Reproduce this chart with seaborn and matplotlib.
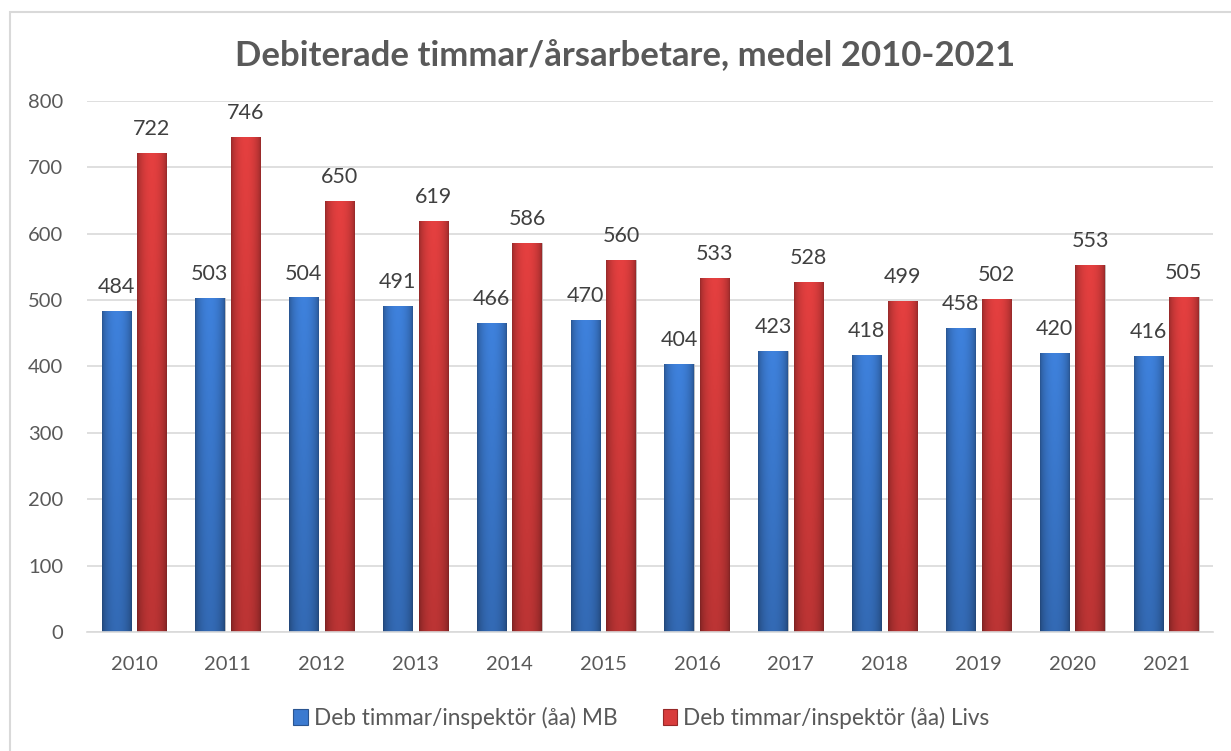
import matplotlib.pyplot as plt
import matplotlib.colors as mcolors
import matplotlib.patches as mpatches
import numpy as np
import pandas as pd
import seaborn as sns

years = ["2010", "2011", "2012", "2013", "2014", "2015",
         "2016", "2017", "2018", "2019", "2020", "2021"]
mb = [484, 503, 504, 491, 466, 470, 404, 423, 418, 458, 420, 416]
livs = [722, 746, 650, 619, 586, 560, 533, 528, 499, 502, 553, 505]
series = ["Deb timmar/inspektör (åa) MB", "Deb timmar/inspektör (åa) Livs"]
colors = ["#3b7ad0", "#d83c3c"]
edge_colors = ["#2a5591", "#962828"]

TEXT = "#595959"
GRID = "#d9d9d9"


def gradient_bar(ax, patch, base):
    """バーをグラデーションで塗る（Excel風）。"""
    x, y = patch.get_x(), patch.get_y()
    w, h = patch.get_width(), patch.get_height()
    rgb = np.array(mcolors.to_rgb(base))
    u = np.linspace(0, 1, 40)
    horiz = 0.70 + 0.36 * np.sin(np.pi * u) ** 0.6
    v = np.linspace(0, 1, 80)[:, None]
    vert = 1.0 - 0.18 * v
    img = np.clip(rgb[None, None, :] * horiz[None, :, None] * vert[..., None], 0, 1)
    im = ax.imshow(img, extent=[x, x + w, y, y + h], aspect="auto", origin="upper",
                   zorder=patch.get_zorder() + 0.1, interpolation="bilinear")
    im.set_clip_path(patch)


df = pd.DataFrame({
    "year": years * 2,
    "value": mb + livs,
    "series": [series[0]] * len(years) + [series[1]] * len(years),
})

sns.set_style("white")
plt.rcParams["font.family"] = ["Lato", "DejaVu Sans"]

fig = plt.figure(figsize=(12.31, 7.51), dpi=100)
ax = fig.add_axes([0.0707, 0.1585, 0.9147, 0.707])

sns.barplot(data=df, x="year", y="value", hue="series", palette=colors,
            width=0.76, gap=0.18, ax=ax, legend=False, zorder=2,
            edgecolor="none")

for container, base, ec in zip(ax.containers, colors, edge_colors):
    for patch in container:
        patch.set_edgecolor("#c0c0c0")
        patch.set_linewidth(0.6)
        gradient_bar(ax, patch, base)
    ax.bar_label(container, padding=10, fontsize=15.5, color="#404040")

ax.set_xlim(-0.5, len(years) - 0.5)
ax.set_ylim(0, 800)
ax.set_yticks(range(0, 801, 100))
ax.yaxis.grid(True, color=GRID, linewidth=1.2, zorder=0)
ax.set_axisbelow(True)
for s in ["top", "right", "left"]:
    ax.spines[s].set_visible(False)
ax.spines["bottom"].set_color(GRID)
ax.spines["bottom"].set_linewidth(1.2)
ax.tick_params(axis="y", length=0, pad=17, labelsize=14.5, labelcolor=TEXT)
ax.tick_params(axis="x", length=0, pad=17, labelsize=14.5, labelcolor=TEXT)
ax.set_xlabel("")
ax.set_ylabel("")

fig.text(0.508, 0.925, "Debiterade timmar/årsarbetare, medel 2010-2021",
         ha="center", va="center", fontsize=25, fontweight="bold", color=TEXT)

handles = [mpatches.Patch(facecolor=c, edgecolor=ec, linewidth=0.8, label=lab)
           for c, ec, lab in zip(colors, edge_colors, series)]
fig.legend(handles=handles, loc="center", bbox_to_anchor=(0.521, 0.044), ncol=2,
           frameon=False, fontsize=16.3, labelcolor=TEXT, handlelength=0.65,
           handleheight=0.65, handletextpad=0.25, columnspacing=2.0)

# 枠線（右・下は画像外）
fig.patches.append(mpatches.Rectangle((10 / 1231, -0.05), 1.5, (751 - 12) / 751 + 0.05,
                                      transform=fig.transFigure, fill=False,
                                      edgecolor=GRID, linewidth=1.5))

fig.savefig("out.png", dpi=100)
